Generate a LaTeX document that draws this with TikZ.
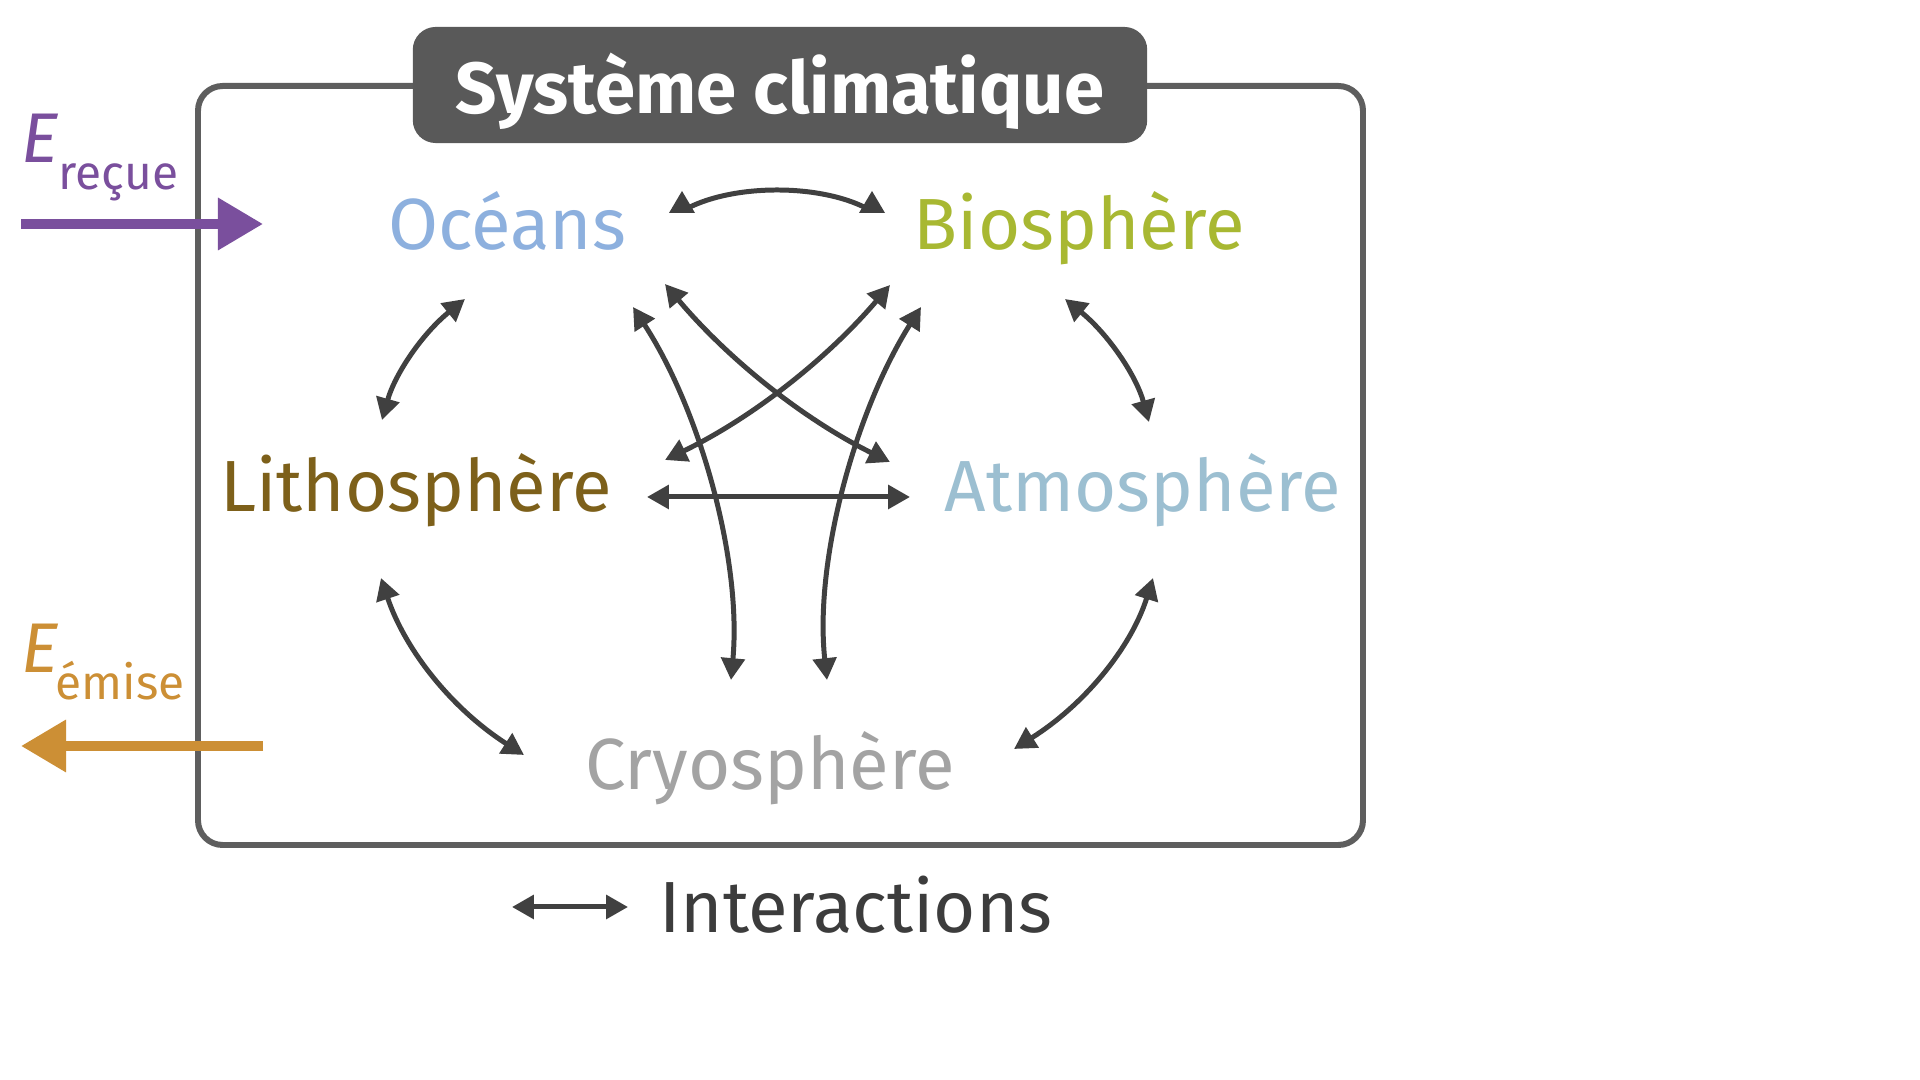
\documentclass[tikz,border=0pt]{standalone}
\usepackage{fontspec}
\setmainfont{Fira Sans}
\usetikzlibrary{arrows.meta}
\definecolor{boxgray}{HTML}{5E5E5E}
\definecolor{titlegray}{HTML}{595959}
\definecolor{arrowgray}{HTML}{404040}
\definecolor{ocecol}{HTML}{8DB0DE}
\definecolor{biocol}{HTML}{A8B832}
\definecolor{lithcol}{HTML}{7D601A}
\definecolor{atmcol}{HTML}{9CBFD1}
\definecolor{cryocol}{HTML}{A3A3A3}
\definecolor{purplecol}{HTML}{7A4F9D}
\definecolor{orangecol}{HTML}{CC8F35}
\definecolor{legcol}{HTML}{3C3C3C}
\begin{document}
\begin{tikzpicture}[x=0.01cm,y=-0.01cm,
  lbl/.style={font=\fontsize{20.6pt}{25pt}\selectfont, anchor=base, inner sep=0pt},
  tip/.style={Triangle[length=6.2pt,width=6.6pt]},
  ia/.style={draw=arrowgray, line width=1.42pt, {Triangle[length=6.2pt,width=6.6pt]}-{Triangle[length=6.2pt,width=6.6pt]}},
  ialine/.style={draw=arrowgray, line width=1.42pt},
  headfill/.style={fill=arrowgray},
  bigarrow/.style={line width=2.85pt, -{Triangle[length=12.8pt,width=14.2pt]}},
  efont/.style={font=\fontsize{20pt}{24pt}\selectfont\itshape, anchor=base west, inner sep=0pt},
  sfont/.style={font=\fontsize{13.6pt}{16pt}\selectfont, anchor=base west, inner sep=0pt}]
\useasboundingbox (0,0) rectangle (1920,1080);
\fill[white] (0,0) rectangle (1920,1080);

% main frame
\draw[boxgray, line width=1.7pt, rounded corners=7pt] (198,86) rectangle (1363,845);
% title
\node[fill=titlegray, rounded corners=6.5pt, minimum width=7.34cm, minimum height=1.16cm, inner sep=0pt] (titlebox) at (780,85) {};
\node[lbl, text=white, font=\fontsize{20.6pt}{25pt}\selectfont\bfseries] (title) at (780,114) {Système climatique};

% components
\node[lbl, text=ocecol] (oce) at (507,250) {Océans};
\node[lbl, text=biocol] (bio) at (1079,250) {Biosphère};
\node[lbl, text=lithcol] (lith) at (416,512) {Lithosphère};
\node[lbl, text=atmcol] (atm) at (1143,512) {Atmosphère};
\node[lbl, text=cryocol] (cryo) at (770,790) {Cryosphère};

% endpoints
\coordinate (ob1) at (688,208); \coordinate (ob2) at (866,208);
\coordinate (ol1) at (465,299); \coordinate (ol2) at (382,420);
\coordinate (ba1) at (1065,299); \coordinate (ba2) at (1149,422);
\coordinate (lc1) at (381,578); \coordinate (lc2) at (524,755);
\coordinate (ac1) at (1153,578); \coordinate (ac2) at (1014,749);
\coordinate (la1) at (647,497); \coordinate (la2) at (910,497);
\coordinate (oa1) at (665,284); \coordinate (oa2) at (890,462);
\coordinate (bl1) at (890,285); \coordinate (bl2) at (665,460);
\coordinate (oc1) at (633,307); \coordinate (oc2) at (731,680);
\coordinate (bc1) at (921,307); \coordinate (bc2) at (827,680);

% Oceans - Biosphere arc with upright heads
\draw[ialine] (ob1) .. controls (735,184) and (819,184) .. (ob2);
\fill[headfill] (682,191) -- (669,213) -- (695,213) -- cycle;
\fill[headfill] (872,191) -- (859,213) -- (885,213) -- cycle;

\draw[ia] (ol1) .. controls (422,334) and (395,374) .. (ol2);
\draw[ia] (ba1) .. controls (1108,334) and (1136,375) .. (ba2);
\draw[ia] (lc1) .. controls (405,650) and (452,709) .. (lc2);
\draw[ia] (ac1) .. controls (1131,648) and (1084,705) .. (ac2);
\draw[ia] (la1) -- (la2);
\draw[ia] (oa1) .. controls (728,359) and (803,419) .. (oa2);
\draw[ia] (bl1) .. controls (827,359) and (752,418) .. (bl2);
\draw[ia] (oc1) .. controls (700,410) and (742,560) .. (oc2);
\draw[ia] (bc1) .. controls (856,410) and (814,560) .. (bc2);

% energy arrows
\node[efont, text=purplecol] (er) at (21,163) {E};
\node[sfont, text=purplecol] (ers) at (58,190) {reçue};
\coordinate (pin1) at (21,224); \coordinate (pin2) at (263,224);
\draw[bigarrow, purplecol] (pin1) -- (pin2);

\node[efont, text=orangecol] (ee) at (21,673) {E};
\node[sfont, text=orangecol] (ees) at (55,700) {émise};
\coordinate (pout1) at (263,746); \coordinate (pout2) at (21,746);
\draw[bigarrow, orangecol] (pout1) -- (pout2);

% legend
\coordinate (leg1) at (512,907); \coordinate (leg2) at (628,907);
\draw[ia] (leg1) -- (leg2);
\node[lbl, text=legcol] (legtext) at (856,933) {Interactions};
\end{tikzpicture}
\end{document}
